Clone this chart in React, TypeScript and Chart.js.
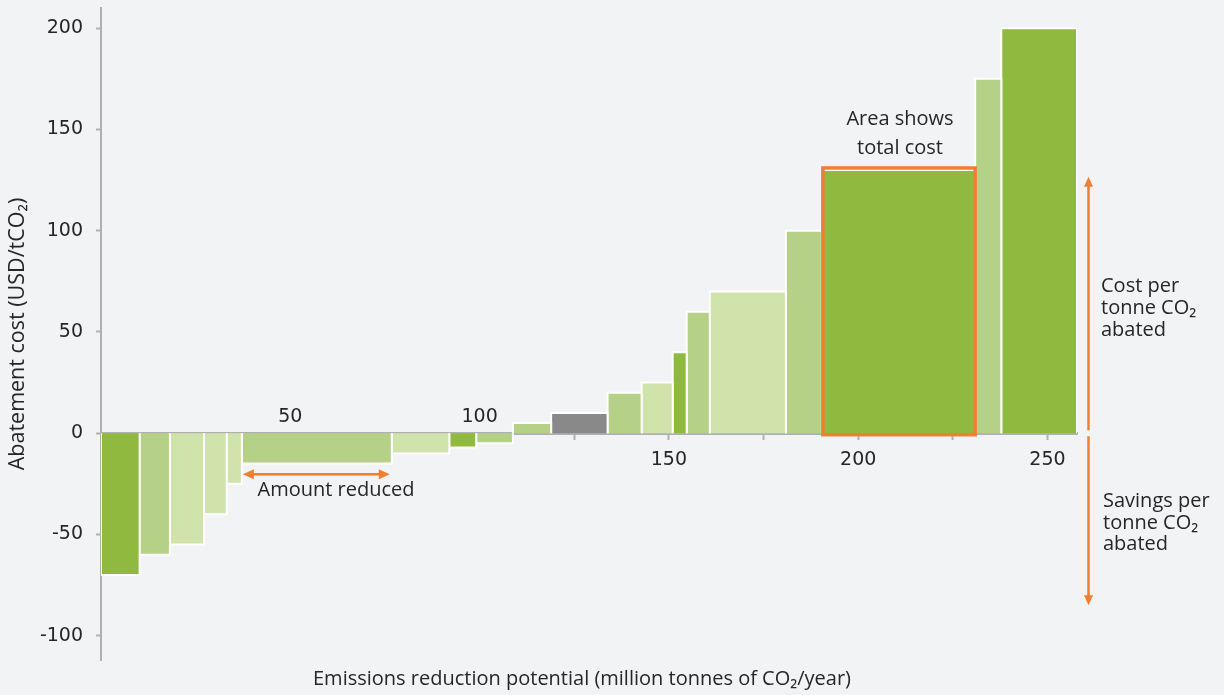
import { useEffect, useRef } from 'react';
import { Chart, registerables } from 'chart.js';

Chart.register(...registerables);

// ---- data ----
const reductionAmounts = [10.2, 8, 9, 6, 4, 39.6, 15.2, 7.1, 9.7, 10.1, 14.9, 9, 8.2, 3.7, 6.1, 20.1, 9.5, 40.5, 6.9, 20];
const abatementCosts = [-70, -60, -55, -40, -25, -15, -10, -7, -5, 5, 10, 20, 25, 40, 60, 70, 100, 130, 175, 200];
const measureShades = ['dark', 'medium', 'light', 'light', 'light', 'medium', 'light', 'dark', 'medium', 'medium', 'gray', 'medium', 'light', 'dark', 'medium', 'light', 'medium', 'dark', 'medium', 'dark'];
const yTickValues = [-100, -50, 0, 50, 100, 150, 200];
const xTickValues = [0, 25, 50, 75, 100, 125, 150, 175, 200, 225, 250];
const xLabelsBelow = [150, 200, 250];
const xLabelsAbove = [50, 100];
const highlightIndex = 17;

const shadeColors: Record<string, string> = {
  dark: '#8fba3f',
  medium: '#b5d087',
  light: '#cfe3aa',
  gray: '#898989',
};

const ORANGE = '#f07f32';
const TEXT = '#262626';
const AXIS = '#b0b0b0';
const FONT = "'Open Sans', 'Noto Sans', sans-serif";
const TICK_FONT = "'DejaVu Sans', 'Open Sans', sans-serif";

const starts: number[] = [];
{
  let acc = 0;
  for (const w of reductionAmounts) {
    starts.push(acc);
    acc += w;
  }
}
const totalAmount = reductionAmounts.reduce((a, b) => a + b, 0);

function arrowHead(ctx: CanvasRenderingContext2D, tx: number, ty: number, dx: number, dy: number, len: number, half: number) {
  const px = -dy, py = dx;
  ctx.beginPath();
  ctx.moveTo(tx, ty);
  ctx.lineTo(tx - dx * len + px * half, ty - dy * len + py * half);
  ctx.lineTo(tx - dx * len - px * half, ty - dy * len - py * half);
  ctx.closePath();
  ctx.fill();
}

const annotationPlugin = {
  id: 'macAnnotations',
  afterLayout(chart: any) {
    // centre the x-axis title slightly left of the plot centre, as in the source
    const s = chart.scales.xt;
    if (s) {
      s.left -= 14;
      s.width = s.right - s.left;
    }
  },
  afterDraw(chart: any) {
    const { ctx, chartArea } = chart;
    const xs = chart.scales.x;
    const ys = chart.scales.y;
    ctx.save();
    ctx.strokeStyle = ORANGE;
    ctx.fillStyle = ORANGE;

    // highlight box around the largest-area measure
    const hs = starts[highlightIndex];
    const he = hs + reductionAmounts[highlightIndex];
    const bx0 = xs.getPixelForValue(hs) + 1;
    const bx1 = xs.getPixelForValue(he);
    const by0 = ys.getPixelForValue(abatementCosts[highlightIndex]) - 2;
    const by1 = ys.getPixelForValue(0) + 1.5;
    ctx.lineWidth = 3.5;
    ctx.strokeRect(bx0, by0, bx1 - bx0, by1 - by0);

    // amount reduced arrow (width of bar 6)
    const as = starts[5];
    const ae = as + reductionAmounts[5];
    const ax0 = xs.getPixelForValue(as) + 1;
    const ax1 = xs.getPixelForValue(ae) - 2;
    const ay = ys.getPixelForValue(-20.3);
    ctx.lineWidth = 2.5;
    ctx.beginPath();
    ctx.moveTo(ax0 + 6, ay);
    ctx.lineTo(ax1 - 6, ay);
    ctx.stroke();
    arrowHead(ctx, ax0, ay, -1, 0, 11, 5);
    arrowHead(ctx, ax1, ay, 1, 0, 11, 5);

    // right side arrows
    const rx = chartArea.right + 11.5;
    const zeroY = ys.getPixelForValue(0);
    const upTip = ys.getPixelForValue(126.7);
    const downTip = ys.getPixelForValue(-85);
    ctx.lineWidth = 2.5;
    ctx.beginPath();
    ctx.moveTo(rx, zeroY - 3);
    ctx.lineTo(rx, upTip + 6);
    ctx.stroke();
    arrowHead(ctx, rx, upTip, 0, -1, 10, 4.5);
    ctx.beginPath();
    ctx.moveTo(rx, zeroY + 3);
    ctx.lineTo(rx, downTip - 6);
    ctx.stroke();
    arrowHead(ctx, rx, downTip, 0, 1, 10, 4.5);

    // texts
    ctx.fillStyle = TEXT;
    ctx.font = `20px ${FONT}`;
    ctx.textBaseline = 'middle';
    ctx.textAlign = 'center';
    const cx = (bx0 + bx1) / 2;
    ctx.fillText('Area shows', cx + 1, 119);
    ctx.fillText('total cost', cx + 1, 148);
    ctx.fillText('Amount reduced', 336, 490);

    ctx.textAlign = 'left';
    const tx = chartArea.right + 24;
    ctx.fillText('Cost per', tx, 286);
    ctx.fillText('tonne CO₂', tx, 308);
    ctx.fillText('abated', tx, 330);
    ctx.fillText('Savings per', tx + 2, 501);
    ctx.fillText('tonne CO₂', tx + 2, 523);
    ctx.fillText('abated', tx + 2, 544);
    ctx.restore();
  },
};

export default function App() {
  const canvasRef = useRef<HTMLCanvasElement | null>(null);

  useEffect(() => {
    if (!canvasRef.current) return;
    Chart.defaults.font.family = FONT;

    const datasets = reductionAmounts.map((w, i) => {
      const s = starts[i];
      const e = s + w;
      const v = abatementCosts[i];
      return {
        type: 'line' as const,
        data: [
          { x: s, y: 0 },
          { x: s, y: v },
          { x: e, y: v },
          { x: e, y: 0 },
        ],
        borderColor: '#ffffff',
        borderWidth: 2,
        borderJoinStyle: 'miter' as const,
        backgroundColor: shadeColors[measureShades[i]],
        fill: 'origin',
        pointRadius: 0,
        pointHoverRadius: 0,
        tension: 0,
      };
    });

    const tickFont = { size: 19, family: TICK_FONT };

    const chart = new Chart(canvasRef.current, {
      type: 'line',
      data: { datasets: datasets as any },
      options: {
        animation: false,
        responsive: false,
        maintainAspectRatio: false,
        events: [],
        layout: { padding: { top: 8, right: 147, bottom: 0, left: 0 } },
        plugins: {
          legend: { display: false },
          tooltip: { enabled: false },
          title: { display: false },
        },
        scales: {
          x: {
            type: 'linear',
            min: 0,
            max: totalAmount,
            position: { y: 0 } as any,
            z: 1,
            afterBuildTicks: (scale: any) => {
              scale.ticks = xTickValues.map((v) => ({ value: v }));
            },
            afterFit: (scale: any) => {
              scale.paddingLeft = 0;
              scale.paddingRight = 0;
            },
            ticks: {
              autoSkip: false,
              maxRotation: 0,
              padding: 10,
              color: TEXT,
              font: tickFont,
              callback: (v: any) => (xLabelsBelow.includes(Number(v)) ? String(v) : ''),
            },
            grid: { drawOnChartArea: false, drawTicks: true, tickLength: 5, tickColor: AXIS, tickWidth: 2 },
            border: { display: true, color: AXIS, width: 3 },
          },
          x2: {
            type: 'linear',
            min: 0,
            max: totalAmount,
            position: { y: 0 } as any,
            z: 1,
            afterBuildTicks: (scale: any) => {
              scale.ticks = xLabelsAbove.map((v) => ({ value: v }));
            },
            afterFit: (scale: any) => {
              scale.paddingLeft = 0;
              scale.paddingRight = 0;
            },
            ticks: {
              autoSkip: false,
              maxRotation: 0,
              padding: -28,
              color: TEXT,
              font: tickFont,
              callback: (v: any) => String(v),
            },
            grid: { display: false, drawTicks: false },
            border: { display: false },
          },
          xt: {
            type: 'linear',
            min: 0,
            max: totalAmount,
            position: 'bottom',
            ticks: { display: false },
            grid: { display: false, drawTicks: false },
            border: { display: false },
            title: {
              display: true,
              text: 'Emissions reduction potential (million tonnes of CO₂/year)',
              color: TEXT,
              font: { size: 20, family: FONT },
              padding: { top: 7, bottom: 4 },
            },
          },
          y: {
            type: 'linear',
            min: -112,
            max: 210,
            position: 'left',
            z: 1,
            afterBuildTicks: (scale: any) => {
              scale.ticks = yTickValues.map((v) => ({ value: v }));
            },
            afterFit: (scale: any) => {
              scale.width = 101;
              scale.paddingTop = 0;
              scale.paddingBottom = 0;
            },
            ticks: { padding: 13, color: TEXT, font: tickFont },
            grid: { drawOnChartArea: false, drawTicks: true, tickLength: 5, tickColor: AXIS, tickWidth: 2 },
            border: { display: true, color: AXIS, width: 2 },
            title: {
              display: true,
              text: 'Abatement cost (USD/tCO₂)',
              color: TEXT,
              font: { size: 21.5, family: FONT },
              padding: { top: 5, bottom: 0 },
            },
          },
        },
      } as any,
      plugins: [annotationPlugin],
    });

    return () => chart.destroy();
  }, []);

  return (
    <div style={{ position: 'fixed', left: 0, top: 0, width: 1224, height: 695, background: '#f2f3f5' }}>
      <canvas ref={canvasRef} width={1224} height={695} style={{ display: 'block', width: 1224, height: 695 }} />
    </div>
  );
}
